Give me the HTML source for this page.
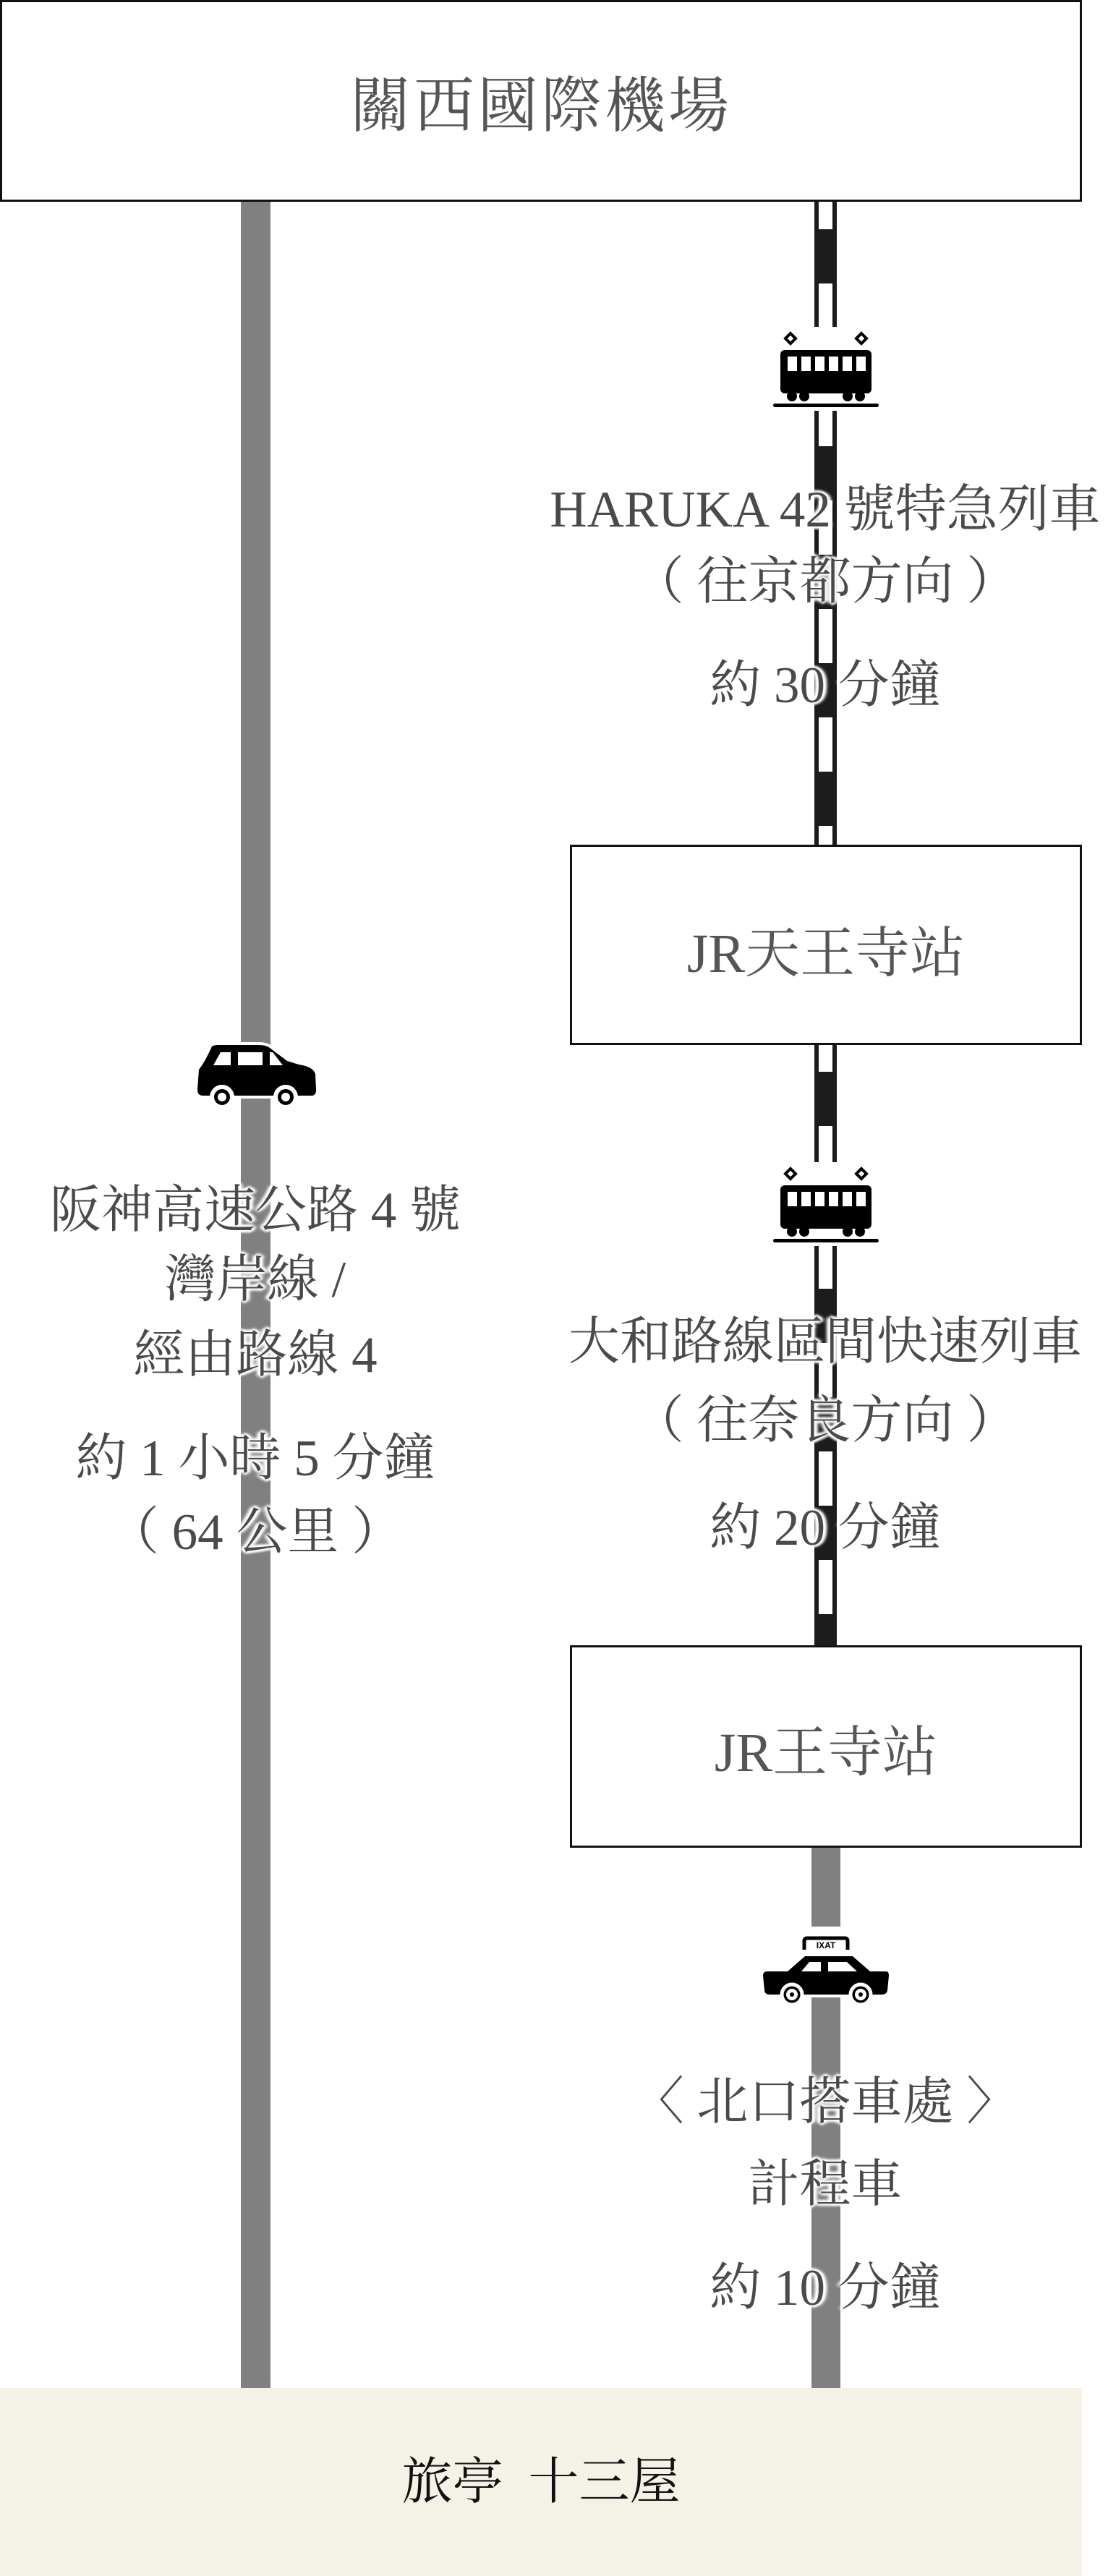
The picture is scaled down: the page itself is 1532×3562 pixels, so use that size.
<!DOCTYPE html>
<html><head><meta charset="utf-8"><style>
html,body{margin:0;padding:0;background:#fff;}
body{width:1532px;height:3562px;position:relative;overflow:hidden;font-family:"Liberation Serif","Noto Serif CJK SC",serif;}
.abs{position:absolute;}
.box{position:absolute;border:3px solid #111;background:#fff;box-sizing:border-box;}
.lbl{position:absolute;width:1000px;text-align:center;color:#4a4a4a;font-size:71px;line-height:80px;white-space:nowrap;
text-shadow:0 0 4px #fff,0 0 4px #fff,3px 0 3px #fff,-3px 0 3px #fff,0 3px 3px #fff,0 -3px 3px #fff,5px 0 4px #fff,-5px 0 4px #fff;}
.rail{position:absolute;width:31px;box-sizing:border-box;border-left:6px solid #1c1c1c;border-right:6px solid #1c1c1c;
background:repeating-linear-gradient(to bottom,#fff 0 38px,#1c1c1c 38px 113px,#fff 113px 150px);}
.gray{position:absolute;background:#808080;}
</style></head><body>

<div class="gray" style="left:333px;top:279px;width:41px;height:3030px;"></div>
<div class="rail" style="left:1126px;top:279px;height:890px;"></div>
<div class="rail" style="left:1126px;top:1444px;height:832px;"></div>
<div class="gray" style="left:1122px;top:2555px;width:40px;height:750px;"></div>

<div class="box" style="left:0;top:0;width:1496px;height:279px;"></div>
<div class="abs" style="left:0;top:100px;width:1496px;text-align:center;font-size:84px;line-height:96px;color:#555;letter-spacing:4px;">關西國際機場</div>

<div class="box" style="left:788px;top:1168px;width:708px;height:277px;"></div>
<div class="abs" style="left:788px;top:1277px;width:708px;text-align:center;font-size:76px;line-height:84px;color:#555;">JR天王寺站</div>

<div class="box" style="left:788px;top:2275px;width:708px;height:280px;"></div>
<div class="abs" style="left:788px;top:2382px;width:708px;text-align:center;font-size:76px;line-height:84px;color:#555;">JR王寺站</div>

<div class="abs" style="left:0;top:3302px;width:1496px;height:260px;background:#f4f1e6;"></div>
<div class="abs" style="left:0;top:3390px;width:1496px;text-align:center;font-size:70px;line-height:86px;color:#111;">旅亭&nbsp; 十三屋</div>

<svg class="abs" style="left:1064px;top:452px" width="156" height="116" viewBox="-5 -8 156 116">
<rect x="-5" y="-8" width="156" height="116" fill="#fff"/>
<g fill="none" stroke="#000" stroke-width="4"><path d="M24 1 L31 8 L24 15 L17 8 Z"/><path d="M122 1 L129 8 L122 15 L115 8 Z"/></g>
<rect x="10" y="24" width="126" height="60" rx="6" fill="#000"/>
<g fill="#fff"><rect x="20" y="33" width="13" height="20"/><rect x="39" y="33" width="13" height="20"/><rect x="58" y="33" width="13" height="20"/><rect x="77" y="33" width="13" height="20"/><rect x="96" y="33" width="13" height="20"/><rect x="115" y="33" width="13" height="20"/></g>
<g fill="#000"><circle cx="26" cy="88" r="7"/><circle cx="43" cy="88" r="7"/><circle cx="103" cy="88" r="7"/><circle cx="120" cy="88" r="7"/></g>
<rect x="0" y="98" width="146" height="5" rx="2.5" fill="#000"/>
</svg>
<svg class="abs" style="left:1064px;top:1607px" width="156" height="116" viewBox="-5 -8 156 116">
<rect x="-5" y="-8" width="156" height="116" fill="#fff"/>
<g fill="none" stroke="#000" stroke-width="4"><path d="M24 1 L31 8 L24 15 L17 8 Z"/><path d="M122 1 L129 8 L122 15 L115 8 Z"/></g>
<rect x="10" y="24" width="126" height="60" rx="6" fill="#000"/>
<g fill="#fff"><rect x="20" y="33" width="13" height="20"/><rect x="39" y="33" width="13" height="20"/><rect x="58" y="33" width="13" height="20"/><rect x="77" y="33" width="13" height="20"/><rect x="96" y="33" width="13" height="20"/><rect x="115" y="33" width="13" height="20"/></g>
<g fill="#000"><circle cx="26" cy="88" r="7"/><circle cx="43" cy="88" r="7"/><circle cx="103" cy="88" r="7"/><circle cx="120" cy="88" r="7"/></g>
<rect x="0" y="98" width="146" height="5" rx="2.5" fill="#000"/>
</svg>

<svg class="abs" style="left:268px;top:1435px" width="172" height="105" viewBox="-5 -10 172 105">
<path d="M20 2 Q10 24 2 34 L0 62 Q0 70 8 70 L158 70 Q164 70 164 62 L163 40 Q160 30 140 27 L124 22 L100 4 Q95 0 85 0 L30 0 Q22 0 20 2 Z" fill="#000" stroke="#fff" stroke-width="8" paint-order="stroke"/>
<g fill="#fff"><path d="M32 10 L46 10 L46 28 L22 28 Z"/><rect x="56" y="10" width="34" height="18"/><path d="M100 10 L104 10 L118 28 L100 28 Z"/></g>
<g><circle cx="34" cy="72" r="14" fill="#000" stroke="#fff" stroke-width="6"/><circle cx="34" cy="72" r="6" fill="#fff"/>
<circle cx="122" cy="72" r="14" fill="#000" stroke="#fff" stroke-width="6"/><circle cx="122" cy="72" r="6" fill="#fff"/></g>
</svg>

<svg class="abs" style="left:1050px;top:2662px" width="184" height="112" viewBox="-5 -8 184 112">
<rect x="45" y="-6" width="90" height="40" fill="#fff"/>
<path d="M57 26 L57 14 Q57 10 61 10 L113 10 Q117 10 117 14 L117 26" fill="none" stroke="#000" stroke-width="5"/>
<text x="87" y="24" font-size="12" font-family="Liberation Sans,sans-serif" text-anchor="middle" font-weight="bold">IXAT</text>
<path d="M58 35 L124 35 L148 56 L170 56 Q174 56 174 62 L172 82 Q171 88 164 88 L10 88 Q2 88 2 82 L0 62 Q0 56 6 56 L34 56 Z" fill="#000" stroke="#fff" stroke-width="8" paint-order="stroke"/>
<g fill="#fff"><path d="M64 43 L80 43 L80 56 L53 56 Z"/><path d="M90 43 L116 43 L130 56 L90 56 Z"/></g>
<circle cx="40" cy="88" r="14" fill="#000" stroke="#fff" stroke-width="5"/><circle cx="40" cy="88" r="8" fill="#fff"/><circle cx="40" cy="88" r="3" fill="#000"/>
<circle cx="135" cy="88" r="14" fill="#000" stroke="#fff" stroke-width="5"/><circle cx="135" cy="88" r="8" fill="#fff"/><circle cx="135" cy="88" r="3" fill="#000"/>
</svg>

<div class="lbl" style="left:641px;top:665px;">HARUKA 42 號特急列車</div>
<div class="lbl" style="left:641px;top:765px;">（ 往京都方向 ）</div>
<div class="lbl" style="left:641px;top:908px;">約 30 分鐘</div>

<div class="lbl" style="left:641px;top:1816px;">大和路線區間快速列車</div>
<div class="lbl" style="left:641px;top:1925px;">（ 往奈良方向 ）</div>
<div class="lbl" style="left:641px;top:2073px;">約 20 分鐘</div>

<div class="lbl" style="left:641px;top:2867px;">〈 北口搭車處 〉</div>
<div class="lbl" style="left:641px;top:2981px;">計程車</div>
<div class="lbl" style="left:641px;top:3124px;">約 10 分鐘</div>

<div class="lbl" style="left:-147px;top:1634px;">阪神高速公路 4 號</div>
<div class="lbl" style="left:-147px;top:1730px;">灣岸線 /</div>
<div class="lbl" style="left:-147px;top:1834px;">經由路線 4</div>
<div class="lbl" style="left:-147px;top:1977px;">約 1 小時 5 分鐘</div>
<div class="lbl" style="left:-147px;top:2079px;">（ 64 公里 ）</div>

</body></html>
